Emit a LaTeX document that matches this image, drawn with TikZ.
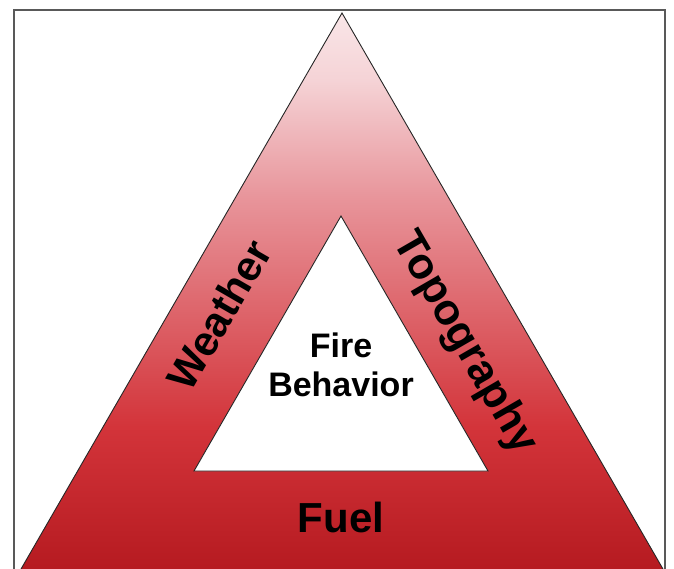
\documentclass[tikz,border=0pt]{standalone}
\usepackage{fontspec}
\setmainfont{Liberation Sans}
\definecolor{firetop}{HTML}{F9E6E8}
\definecolor{firepale}{HTML}{F5D3D6}
\definecolor{firepink}{HTML}{E8959B}
\definecolor{firered}{HTML}{D3343A}
\definecolor{firedeep}{HTML}{B51A20}
\pgfdeclareverticalshading{firefade}{100bp}{color(0bp)=(firedeep); color(25bp)=(firedeep); color(38bp)=(firered); color(58.6bp)=(firepink); color(69bp)=(firepale); color(75bp)=(firetop); color(100bp)=(firetop)}

\begin{document}
\begin{tikzpicture}[x=1pt,y=-1pt,
		side/.style={font=\fontsize{42}{42}\selectfont\bfseries, inner sep=1pt},
		core/.style={font=\fontsize{34}{39}\selectfont\bfseries, align=center},
		rim/.style={draw=black!85, line width=0.9pt}]
	\useasboundingbox (0,0) rectangle (674,569);
	\draw[black!65, line width=2pt] (14,10) rectangle (665,600);
	\coordinate (apex) at (342,13);
	\coordinate (baseL) at (19.3,572);
	\coordinate (baseR) at (664.7,572);
	\coordinate (inApex) at (341,216);
	\coordinate (inL) at (194,471);
	\coordinate (inR) at (488,471);
	\shade[shading=firefade, rim] (apex) -- (baseR) -- (baseL) -- cycle;
	\fill[white, rim] (inApex) -- (inR) -- (inL) -- cycle;
	\node[side, rotate=60] (weather) at (219,315) {Weather};
	\node[side, rotate=-60, font=\fontsize{43.5}{43.5}\selectfont\bfseries] (topography) at (464,343) {Topography};
	\node[side] (fuel) at (341,517) {Fuel};
	\node[core] (behavior) at (341,365) {Fire\\Behavior};
\end{tikzpicture}
\end{document}
